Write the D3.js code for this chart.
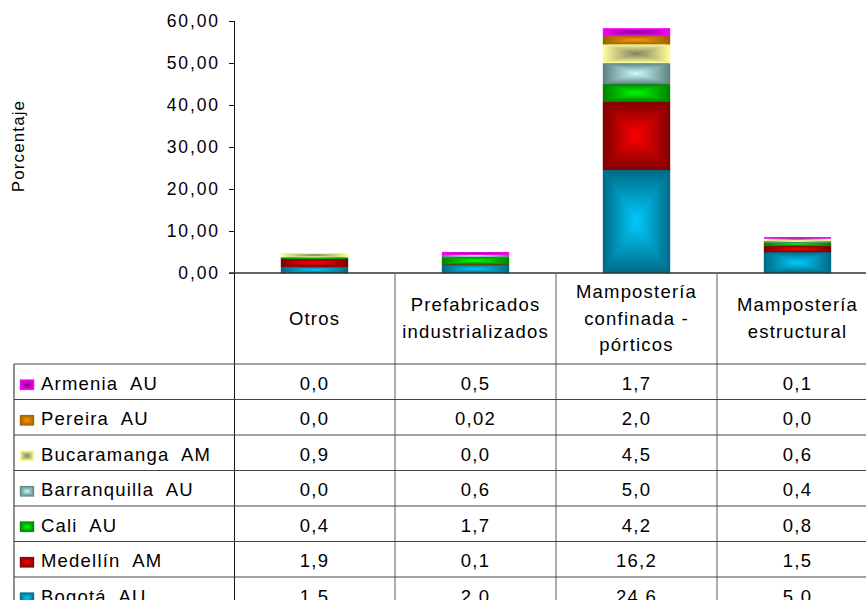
<!DOCTYPE html>
<html>
<head>
<meta charset="utf-8">
<script src="https://cdn.jsdelivr.net/npm/d3@7"></script>
<style>
  body { margin: 0; background: #fff; }
  text { font-family: "Liberation Sans", Arial, sans-serif; fill: #000; }
</style>
</head>
<body>
<div id="chart"></div>
<script>
// categories (columns) and their header lines
const categories = ["Otros", "Prefabricados industrializados", "Mampostería confinada - pórticos", "Mampostería estructural"];
const categoryLines = [["Otros"], ["Prefabricados", "industrializados"], ["Mampostería", "confinada -", "pórticos"], ["Mampostería", "estructural"]];

// series, bottom of the stack first
const seriesNames = ["Bogotá  AU", "Medellín  AM", "Cali  AU", "Barranquilla  AU", "Bucaramanga  AM", "Pereira  AU", "Armenia  AU"];
const bogota       = [1.5, 2.0, 24.6, 5.0];
const medellin     = [1.9, 0.1, 16.2, 1.5];
const cali         = [0.4, 1.7, 4.2, 0.8];
const barranquilla = [0.0, 0.6, 5.0, 0.4];
const bucaramanga  = [0.9, 0.0, 4.5, 0.6];
const pereira      = [0.0, 0.02, 2.0, 0.0];
const armenia      = [0.0, 0.5, 1.7, 0.1];
const seriesValues = [bogota, medellin, cali, barranquilla, bucaramanga, pereira, armenia];

const yTicks = [0, 10, 20, 30, 40, 50, 60];

// gradient colours: edge and centre of each fill
const edgeColors   = ["#006a86", "#800000", "#008000", "#5f8080", "#ffff99", "#9a6000", "#ff00ff"];
const centerColors = ["#00ccff", "#ff0000", "#00ff00", "#ccffff", "#7f7f60", "#ff9900", "#800080"];

const width = 866, height = 600;
const locale = d3.formatLocale({ decimal: ",", thousands: ".", grouping: [3], currency: ["", ""] });
const fmtTick = locale.format(".2f");
const fmtCell = v => (v !== 0 && v < 0.05) ? locale.format(".2f")(v) : locale.format(".1f")(v);

const rows = categories.map((c, j) => {
    const r = { category: c };
    seriesNames.forEach((s, i) => r[s] = seriesValues[i][j]);
    return r;
});
const stacked = d3.stack().keys(seriesNames)(rows);

const svg = d3.select("#chart").append("svg")
    .attr("width", width)
    .attr("height", height);

const x = d3.scaleBand().domain(categories).range([234, 878]).padding(0);
const y = d3.scaleLinear().domain([0, 60]).range([273, 21]);
const barW = x.bandwidth() * 0.416;

const tableTop = 364;
const rowOrder = seriesNames.slice().reverse();
const rowScale = d3.scaleBand().domain(rowOrder).range([tableTop, tableTop + 7 * 35.5]);
const tableLeft = 14;

// pyramid-style gradients (edge -> centre), one per side
const defs = svg.append("defs");
const dirs = { t: [0, 0, 0, 1], b: [0, 1, 0, 0], l: [0, 0, 1, 0], r: [1, 0, 0, 0] };
seriesNames.forEach((s, i) => {
    Object.entries(dirs).forEach(([k, v]) => {
        const lg = defs.append("linearGradient")
            .attr("id", `g${i}${k}`)
            .attr("x1", v[0]).attr("y1", v[1]).attr("x2", v[2]).attr("y2", v[3]);
        lg.append("stop").attr("offset", 0).attr("stop-color", edgeColors[i]);
        lg.append("stop").attr("offset", 1).attr("stop-color", centerColors[i]);
    });
});

function pyramid(g, x0, y0, w, h, i) {
    const cx = x0 + w / 2, cy = y0 + h / 2;
    g.append("rect").attr("x", x0).attr("y", y0).attr("width", w).attr("height", h)
        .attr("fill", edgeColors[i]);
    const tris = {
        t: [[x0, y0], [x0 + w, y0], [cx, cy]],
        b: [[x0, y0 + h], [x0 + w, y0 + h], [cx, cy]],
        l: [[x0, y0], [x0, y0 + h], [cx, cy]],
        r: [[x0 + w, y0], [x0 + w, y0 + h], [cx, cy]]
    };
    Object.entries(tris).forEach(([k, p]) => {
        g.append("path")
            .attr("d", "M" + p.map(q => q.join(",")).join("L") + "Z")
            .attr("fill", `url(#g${i}${k})`)
            .attr("stroke", `url(#g${i}${k})`)
            .attr("stroke-width", 0.4);
    });
}

// bars
const bars = svg.append("g");
stacked.forEach((layer, i) => {
    layer.forEach((d, j) => {
        const h = y(d[0]) - y(d[1]);
        if (h <= 0) return;
        const x0 = x(categories[j]) + (x.bandwidth() - barW) / 2;
        pyramid(bars.append("g"), x0, y(d[1]), barW, h, i);
    });
});

// y axis
const yAxis = svg.append("g");
yAxis.append("line")
    .attr("x1", 234.5).attr("x2", 234.5)
    .attr("y1", y(60)).attr("y2", height)
    .attr("stroke", "#111");
yAxis.selectAll(".tick")
    .data(yTicks)
    .enter().append("line")
        .attr("x1", 229).attr("x2", 234)
        .attr("y1", d => Math.round(y(d)) + 0.5)
        .attr("y2", d => Math.round(y(d)) + 0.5)
        .attr("stroke", "#111");
yAxis.selectAll(".lbl")
    .data(yTicks)
    .enter().append("text")
        .attr("x", 220)
        .attr("y", d => y(d) + 6)
        .attr("text-anchor", "end")
        .style("font-size", "17.5px")
        .style("letter-spacing", "1.9px")
        .text(d => fmtTick(d));

svg.append("text")
    .attr("transform", "translate(24,146) rotate(-90)")
    .attr("text-anchor", "middle")
    .style("font-size", "17px")
    .style("letter-spacing", "1.1px")
    .text("Porcentaje");

// baseline
svg.append("line")
    .attr("x1", 229).attr("x2", width)
    .attr("y1", y(0)).attr("y2", y(0))
    .attr("stroke", "#333").attr("stroke-width", 1.6);

// table grid
const grid = svg.append("g").attr("stroke", "#444").attr("stroke-width", 1.2);
categories.slice(1).forEach(c => {
    grid.append("line")
        .attr("x1", x(c)).attr("x2", x(c))
        .attr("y1", y(0)).attr("y2", height)
        .attr("stroke", "#777");
});
grid.append("line")
    .attr("x1", tableLeft).attr("x2", tableLeft)
    .attr("y1", tableTop).attr("y2", height);
rowOrder.forEach(s => {
    grid.append("line")
        .attr("x1", tableLeft).attr("x2", width)
        .attr("y1", rowScale(s)).attr("y2", rowScale(s));
});

// header
const headerMid = (y(0) + tableTop) / 2 - 0.5;
categories.forEach((c, j) => {
    const lines = categoryLines[j];
    lines.forEach((ln, k) => {
        svg.append("text")
            .attr("x", x(c) + x.bandwidth() / 2)
            .attr("y", headerMid + (k - (lines.length - 1) / 2) * 26.5 + 6.5)
            .attr("text-anchor", "middle")
            .style("font-size", "18.5px")
            .style("letter-spacing", "1.2px")
            .text(ln);
    });
});

// rows
rowOrder.forEach(s => {
    const i = seriesNames.indexOf(s);
    const cy = rowScale(s) + rowScale.bandwidth() / 2;
    pyramid(svg.append("g"), 20, cy - 2, 14, 10, i);
    svg.append("text")
        .attr("x", 41)
        .attr("y", cy + 8)
        .style("font-size", "18.5px")
        .style("letter-spacing", "1.2px")
        .style("white-space", "pre")
        .text(s);
    categories.forEach((c, j) => {
        svg.append("text")
            .attr("x", x(c) + x.bandwidth() / 2)
            .attr("y", cy + 8)
            .attr("text-anchor", "middle")
            .style("font-size", "18.5px")
            .style("letter-spacing", "1.2px")
            .text(fmtCell(seriesValues[i][j]));
    });
});
</script>
</body>
</html>
